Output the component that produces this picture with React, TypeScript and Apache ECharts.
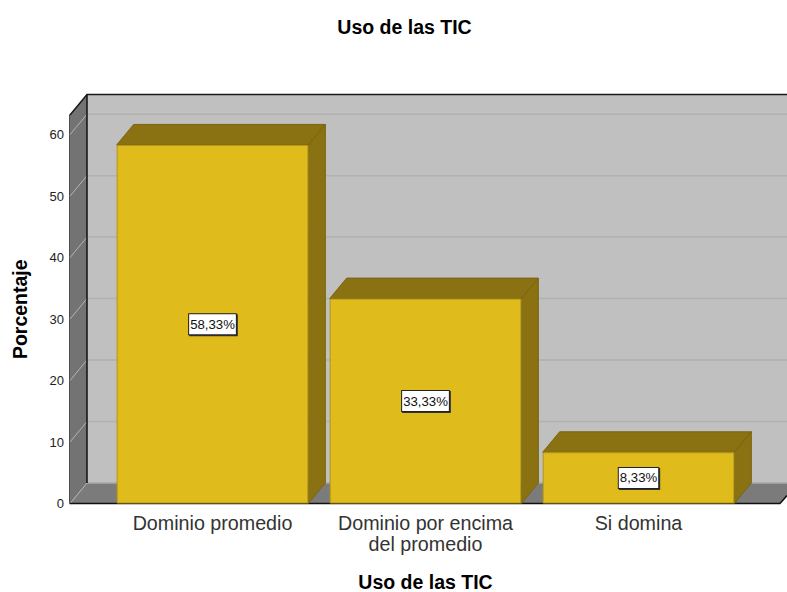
import React, { useEffect, useRef } from "react";
import * as echarts from "echarts";

const categories = ["Dominio promedio", "Dominio por encima\ndel promedio", "Si domina"];
const values = [58.33, 33.33, 8.33];
const valueLabels = ["58,33%", "33,33%", "8,33%"];
const yMax = 63.2;
const yTicks = [0, 10, 20, 30, 40, 50, 60];
const title = "Uso de las TIC";
const xName = "Uso de las TIC";
const yName = "Porcentaje";

const FONT = "Liberation Sans";
const DX = 17;
const DY = 20.5;
const LEFT_OFFSET = 36;

function renderWalls(params: any, api: any) {
  const cs = params.coordSys;
  const bottom = cs.y + cs.height;
  const top = cs.y;
  const xL = cs.x - LEFT_OFFSET;
  const xB = xL + DX;
  const xFloorR = 780;
  const xR = 787;
  const children: any[] = [
    { type: "polygon", shape: { points: [[xB, top - DY], [xR, top - DY], [xR, bottom - DY], [xB, bottom - DY]] }, style: { fill: "#c0c0c0" } },
    { type: "polygon", shape: { points: [[xL, top], [xB, top - DY], [xB, bottom - DY], [xL, bottom]] }, style: { fill: "#737373" } },
    { type: "polygon", shape: { points: [[xL, bottom], [xB, bottom - DY], [xR, bottom - DY], [xR, bottom - 8], [xFloorR, bottom]] }, style: { fill: "#7b7b7b" } },
  ];
  yTicks.forEach((t) => {
    const y = api.coord([0, t])[1];
    if (t > 0) {
      children.push({ type: "line", shape: { x1: xB, y1: y - DY, x2: xR, y2: y - DY }, style: { stroke: "#b1b1b1", lineWidth: 1.5 } });
    }
    children.push({ type: "line", shape: { x1: xL, y1: y, x2: xB, y2: y - DY }, style: { stroke: "#b4b4b4", lineWidth: 1 } });
  });
  children.push({ type: "line", shape: { x1: xB, y1: bottom - DY, x2: xR, y2: bottom - DY }, style: { stroke: "#a9a9a9", lineWidth: 1.5 } });
  children.push({ type: "polyline", shape: { points: [[xL, top], [xB, top - DY], [xR, top - DY]] }, style: { stroke: "#1a1a1a", fill: "none", lineWidth: 1.5 } });
  children.push({ type: "line", shape: { x1: xB, y1: top - DY, x2: xB, y2: bottom - DY }, style: { stroke: "#111", lineWidth: 1.5 } });
  children.push({ type: "polyline", shape: { points: [[xL, bottom], [xFloorR, bottom], [xR, bottom - 8]] }, style: { stroke: "#111", fill: "none", lineWidth: 1.5 } });
  return { type: "group", children };
}

function renderBarDepth(params: any, api: any) {
  const idx = api.value(0);
  const v = api.value(1);
  const [cx, yTop] = api.coord([idx, v]);
  const y0 = api.coord([idx, 0])[1];
  const w = api.size([1, 0])[0] * 0.9;
  const l = cx - w / 2;
  const r = cx + w / 2;
  const fill = "#8a7212";
  const stroke = "#7a650f";
  return {
    type: "group",
    children: [
      { type: "polygon", shape: { points: [[l, yTop], [l + DX, yTop - DY], [r + DX, yTop - DY], [r, yTop]] }, style: { fill, stroke, lineWidth: 1 } },
      { type: "polygon", shape: { points: [[r, yTop], [r + DX, yTop - DY], [r + DX, y0 - DY], [r, y0]] }, style: { fill, stroke, lineWidth: 1 } },
    ],
  };
}

export default function App() {
  const ref = useRef<HTMLDivElement>(null);
  useEffect(() => {
    document.body.style.margin = "0";
    const chart = echarts.init(ref.current!, undefined, { renderer: "svg" });
    chart.setOption({
      animation: false,
      backgroundColor: "#ffffff",
      textStyle: { fontFamily: FONT },
      title: {
        text: title,
        left: 399.5,
        top: 12,
        textAlign: "center",
        textStyle: { fontFamily: FONT, fontSize: 19.5, fontWeight: "bold", color: "#000" },
      },
      grid: { left: 106, top: 115, width: 639, height: 388.5, containLabel: false, outerBoundsMode: "none" },
      xAxis: {
        type: "category",
        data: categories,
        name: xName,
        nameLocation: "middle",
        nameGap: 68,
        nameTextStyle: { fontFamily: FONT, fontSize: 19.5, fontWeight: "bold", color: "#000" },
        axisLine: { show: false },
        axisTick: { show: false },
        axisLabel: { interval: 0, fontFamily: FONT, fontSize: 19.7, color: "#333", margin: 9, lineHeight: 21 },
      },
      yAxis: {
        type: "value",
        min: 0,
        max: yMax,
        interval: 10,
        offset: LEFT_OFFSET,
        name: yName,
        nameLocation: "middle",
        nameGap: 40,
        nameTextStyle: { fontFamily: FONT, fontSize: 19.5, fontWeight: "bold", color: "#000" },
        axisLine: { show: true, lineStyle: { color: "#111", width: 1.5 } },
        axisTick: { show: false },
        splitLine: { show: false },
        axisLabel: { showMaxLabel: false, fontFamily: FONT, fontSize: 13, color: "#222", margin: 6, padding: [2, 0, 0, 0] },
      },
      series: [
        {
          type: "custom",
          z: 1,
          silent: true,
          clip: false,
          renderItem: renderWalls,
          data: [[0, 0]],
        },
        {
          type: "custom",
          z: 2,
          silent: true,
          clip: false,
          renderItem: renderBarDepth,
          data: values.map((v, i) => [i, v]),
        },
        {
          type: "bar",
          z: 3,
          barWidth: "90%",
          data: values,
          itemStyle: { color: "#e0bb1c", borderColor: "#b3951a", borderWidth: 1 },
          label: {
            show: true,
            position: "inside",
            formatter: (p: any) => valueLabels[p.dataIndex],
            fontFamily: FONT,
            fontSize: 13.2,
            color: "#111",
            backgroundColor: "#fff",
            borderColor: "#222",
            borderWidth: 1,
            padding: [4, 1, 3, 1],
            shadowColor: "#333",
            shadowOffsetX: 1,
            shadowOffsetY: 1,
            shadowBlur: 0,
          },
        },
      ],
    });
    return () => chart.dispose();
  }, []);
  return <div ref={ref} style={{ width: 787, height: 592 }} />;
}
